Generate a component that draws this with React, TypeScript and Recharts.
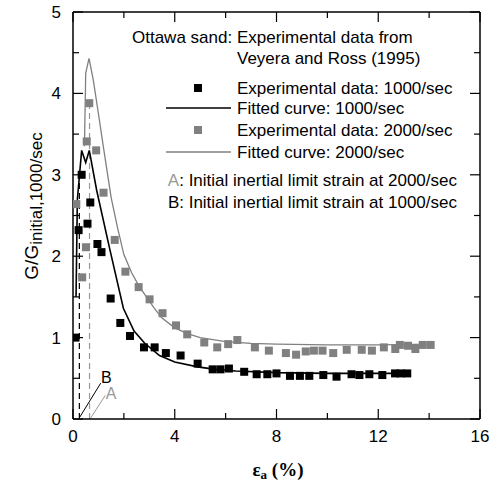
import React from 'react'
import { ComposedChart, Scatter, Line, XAxis, YAxis, ReferenceLine, ReferenceDot } from 'recharts'

// strain (%) , G/G_initial
const exp1000 = [
  [0.1, 1.0], [0.22, 2.32], [0.34, 3.0], [0.57, 2.4], [0.68, 2.66], [0.96, 2.15], [1.12, 2.05],
  [1.48, 1.48], [1.86, 1.18], [2.24, 1.02], [2.79, 0.88], [3.21, 0.88], [3.65, 0.81], [4.23, 0.78],
  [4.9, 0.68], [5.49, 0.61], [5.8, 0.61], [6.13, 0.62], [6.73, 0.58], [7.22, 0.55], [7.64, 0.55],
  [8.0, 0.56], [8.53, 0.53], [8.92, 0.53], [9.29, 0.53], [9.84, 0.54], [10.36, 0.52], [10.95, 0.55],
  [11.26, 0.54], [11.65, 0.55], [12.16, 0.54], [12.66, 0.56], [12.88, 0.56], [13.14, 0.56],
]

const exp2000 = [
  [0.13, 2.64], [0.36, 1.74], [0.51, 2.11], [0.54, 3.41], [0.64, 3.88], [0.91, 3.3], [1.2, 2.78],
  [1.64, 2.2], [2.06, 1.81], [2.58, 1.62], [3.01, 1.47], [3.52, 1.3], [4.05, 1.15], [4.49, 1.04],
  [5.16, 0.94], [5.67, 0.88], [6.1, 0.92], [6.46, 0.97], [7.15, 0.88], [7.7, 0.84], [8.37, 0.81],
  [8.77, 0.79], [9.15, 0.83], [9.47, 0.84], [9.81, 0.84], [10.23, 0.81], [10.76, 0.85], [11.35, 0.85],
  [11.75, 0.84], [12.22, 0.88], [12.67, 0.86], [12.85, 0.91], [13.17, 0.9], [13.46, 0.86],
  [13.75, 0.91], [14.06, 0.91],
]

const fit1000 = [
  [0.12, 1.5], [0.17, 2.69], [0.34, 3.3], [0.5, 3.15], [0.64, 3.3], [0.93, 2.81], [1.45, 2.08],
  [1.98, 1.36], [2.4, 1.08], [2.82, 0.93], [3.4, 0.78], [4.0, 0.7], [4.9, 0.64], [5.6, 0.61],
  [6.4, 0.59], [8.0, 0.57], [10.0, 0.56], [13.2, 0.56],
]

const fit2000 = [
  [0.45, 3.35], [0.5, 4.25], [0.63, 4.43], [0.8, 4.16], [1.0, 3.75], [1.2, 3.33], [1.5, 2.72],
  [1.75, 2.35], [2.0, 2.02], [2.3, 1.8], [2.6, 1.63], [3.2, 1.36], [3.5, 1.24], [4.0, 1.12],
  [4.5, 1.05], [5.0, 1.0], [6.0, 0.95], [7.0, 0.93], [8.0, 0.92], [10.0, 0.91], [12.0, 0.91], [14.1, 0.92],
]

// inertial limit strains and their pointer lines
const limitB = { x: 0.25, top: 3.0 }
const limitA = { x: 0.65, top: 3.88 }
const pointerB = [[0.26, 0.02], [1.09, 0.44]]
const pointerA = [[0.69, 0.01], [1.27, 0.29]]
const labelB = [1.31, 0.51]
const labelA = [1.5, 0.31]

const xTicks = [0, 2, 4, 6, 8, 10, 12, 14, 16]
const yTicks = [0, 0.5, 1, 1.5, 2, 2.5, 3, 3.5, 4, 4.5, 5]

const toPts = (arr: number[][]) => arr.map(([x, y]) => ({ x, y }))

const BLACK = '#000'
const GREY = '#808080'
const FONT = 'Arial, "Liberation Sans", sans-serif'

const square = (fill: string) => (props: any) => {
  const { cx, cy } = props
  if (cx == null || cy == null) return null
  return <rect x={cx - 4} y={cy - 4} width={8} height={8} fill={fill} />
}

function BottomTick({ x, y, payload }: any) {
  const major = payload.value % 4 === 0
  return (
    <g>
      <line x1={x} x2={x} y1={y} y2={y - (major ? 10 : 6)} stroke={BLACK} strokeWidth={1.2} />
      {major && (
        <text x={x} y={y + 23} textAnchor="middle" fontSize={17} fontFamily={FONT} fill={BLACK}>
          {payload.value}
        </text>
      )}
    </g>
  )
}

function TopTick({ x, y, payload }: any) {
  const major = payload.value % 4 === 0
  return <line x1={x} x2={x} y1={y} y2={y + (major ? 10 : 6)} stroke={BLACK} strokeWidth={1.2} />
}

function LeftTick({ x, y, payload }: any) {
  const major = Number.isInteger(payload.value)
  return (
    <g>
      <line x1={x} x2={x + (major ? 10 : 6)} y1={y} y2={y} stroke={BLACK} strokeWidth={1.2} />
      {major && (
        <text x={x - 12} y={y + 6} textAnchor="end" fontSize={17} fontFamily={FONT} fill={BLACK}>
          {payload.value}
        </text>
      )}
    </g>
  )
}

function RightTick({ x, y, payload }: any) {
  const major = Number.isInteger(payload.value)
  return <line x1={x} x2={x - (major ? 10 : 6)} y1={y} y2={y} stroke={BLACK} strokeWidth={1.2} />
}

function Legend() {
  const t = { fontSize: 17, fontFamily: FONT, fill: BLACK }
  return (
    <svg width={499} height={487} style={{ position: 'absolute', left: 0, top: 0, pointerEvents: 'none' }}>
      <text x={132} y={43} {...t}>Ottawa sand: Experimental data from</text>
      <text x={237} y={64} {...t}>Veyera and Ross (1995)</text>

      <rect x={194} y={84} width={8} height={8} fill={BLACK} />
      <text x={237} y={94} {...t}>Experimental data: 1000/sec</text>
      <line x1={166} x2={231} y1={108} y2={108} stroke={BLACK} strokeWidth={1.6} />
      <text x={237} y={114} {...t}>Fitted curve: 1000/sec</text>
      <rect x={194} y={126} width={8} height={8} fill={GREY} />
      <text x={237} y={136} {...t}>Experimental data: 2000/sec</text>
      <line x1={166} x2={231} y1={152} y2={152} stroke={GREY} strokeWidth={1.3} />
      <text x={237} y={158} {...t}>Fitted curve: 2000/sec</text>

      <text x={457} y={186} textAnchor="end" {...t}>
        <tspan fill="#999">A</tspan>: Initial inertial limit strain at 2000/sec
      </text>
      <text x={457} y={208} textAnchor="end" {...t}>B: Initial inertial limit strain at 1000/sec</text>

      <text x={38} y={206} transform="rotate(-90 38 206)" textAnchor="middle" fontFamily={FONT} fill={BLACK}>
        <tspan fontSize={19}>G/G</tspan>
        <tspan fontSize={17} dy={4}>initial,1000/sec</tspan>
      </text>

      <text x={278} y={476} textAnchor="middle" fontFamily='"Liberation Serif", serif' fontWeight="bold" fill={BLACK}>
        <tspan fontSize={19}>ε</tspan>
        <tspan fontSize={13} dy={3}>a</tspan>
        <tspan fontSize={19} dy={-3}> (%)</tspan>
      </text>
    </svg>
  )
}

export default function App() {
  return (
    <div style={{ position: 'absolute', left: 0, top: 0, width: 499, height: 487, background: '#fff', fontFamily: FONT }}>
      <ComposedChart width={499} height={487} margin={{ top: 0, right: 0, bottom: 0, left: 0 }}>
        <XAxis
          xAxisId="bottom"
          dataKey="x"
          type="number"
          domain={[0, 16]}
          ticks={xTicks}
          interval={0}
          height={68}
          tickSize={0}
          tickMargin={0}
          tickLine={false}
          axisLine={{ stroke: BLACK, strokeWidth: 1.5 }}
          tick={<BottomTick />}
          allowDataOverflow
        />
        <XAxis
          xAxisId="top"
          orientation="top"
          dataKey="x"
          type="number"
          domain={[0, 16]}
          ticks={xTicks}
          interval={0}
          height={12}
          tickSize={0}
          tickMargin={0}
          tickLine={false}
          axisLine={{ stroke: BLACK, strokeWidth: 1.5 }}
          tick={<TopTick />}
          allowDataOverflow
        />
        <YAxis
          yAxisId="left"
          type="number"
          domain={[0, 5]}
          ticks={yTicks}
          interval={0}
          width={73}
          tickSize={0}
          tickMargin={0}
          tickLine={false}
          axisLine={{ stroke: BLACK, strokeWidth: 1.5 }}
          tick={<LeftTick />}
          allowDataOverflow
        />
        <YAxis
          yAxisId="right"
          orientation="right"
          type="number"
          domain={[0, 5]}
          ticks={yTicks}
          interval={0}
          width={19}
          tickSize={0}
          tickMargin={0}
          tickLine={false}
          axisLine={{ stroke: BLACK, strokeWidth: 1.5 }}
          tick={<RightTick />}
          allowDataOverflow
        />

        <ReferenceLine
          xAxisId="bottom"
          yAxisId="left"
          segment={[{ x: limitB.x, y: 0 }, { x: limitB.x, y: limitB.top }]}
          stroke={BLACK}
          strokeWidth={1.2}
          strokeDasharray="6 4"
        />
        <ReferenceLine
          xAxisId="bottom"
          yAxisId="left"
          segment={[{ x: limitA.x, y: 0 }, { x: limitA.x, y: limitA.top }]}
          stroke="#999"
          strokeWidth={1.2}
          strokeDasharray="6 4"
        />
        <ReferenceLine
          xAxisId="bottom"
          yAxisId="left"
          segment={toPts(pointerB)}
          stroke={BLACK}
          strokeWidth={1}
        />
        <ReferenceLine
          xAxisId="bottom"
          yAxisId="left"
          segment={toPts(pointerA)}
          stroke="#999"
          strokeWidth={1}
        />
        <ReferenceDot
          xAxisId="bottom"
          yAxisId="left"
          x={labelB[0]}
          y={labelB[1]}
          r={0}
          stroke="none"
          fill="none"
          label={{ value: 'B', position: 'center', fill: BLACK, fontSize: 16, fontFamily: FONT }}
        />
        <ReferenceDot
          xAxisId="bottom"
          yAxisId="left"
          x={labelA[0]}
          y={labelA[1]}
          r={0}
          stroke="none"
          fill="none"
          label={{ value: 'A', position: 'center', fill: '#999', fontSize: 16, fontFamily: FONT }}
        />

        <Line
          xAxisId="bottom"
          yAxisId="left"
          data={toPts(fit2000)}
          dataKey="y"
          type="linear"
          stroke={GREY}
          strokeWidth={1.3}
          dot={false}
          isAnimationActive={false}
        />
        <Line
          xAxisId="bottom"
          yAxisId="left"
          data={toPts(fit1000)}
          dataKey="y"
          type="linear"
          stroke={BLACK}
          strokeWidth={1.6}
          dot={false}
          isAnimationActive={false}
        />
        <Scatter
          xAxisId="bottom"
          yAxisId="left"
          data={toPts(exp2000)}
          dataKey="y"
          shape={square(GREY)}
          isAnimationActive={false}
        />
        <Scatter
          xAxisId="bottom"
          yAxisId="left"
          data={toPts(exp1000)}
          dataKey="y"
          shape={square(BLACK)}
          isAnimationActive={false}
        />
      </ComposedChart>
      <Legend />
    </div>
  )
}
